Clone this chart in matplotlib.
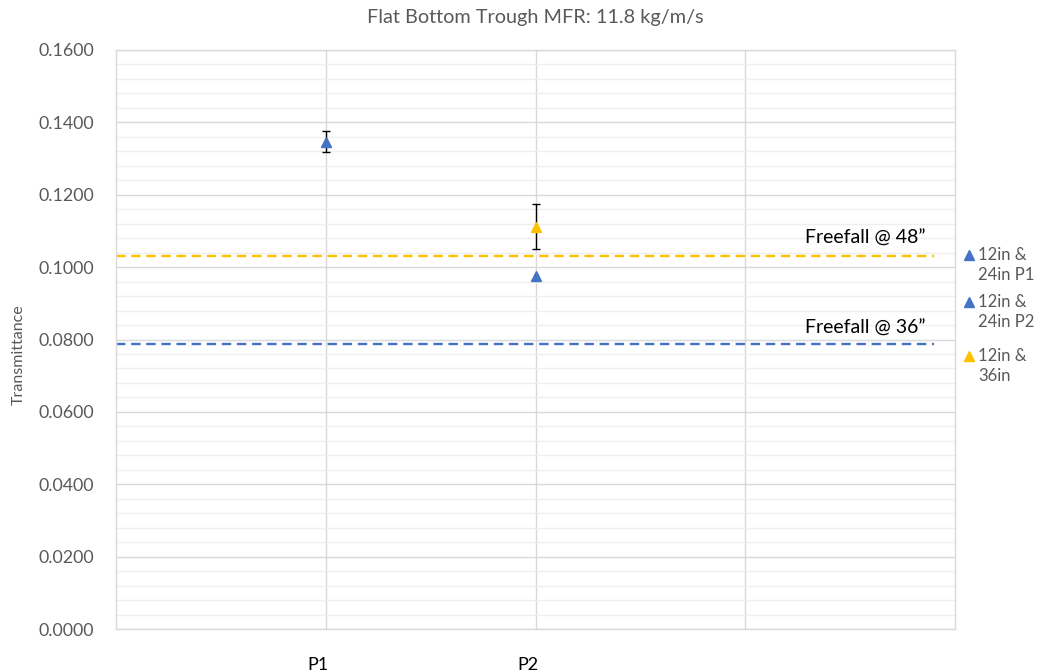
import matplotlib
matplotlib.use("Agg")
import matplotlib.pyplot as plt
import matplotlib.transforms as mtrans
import numpy as np

plt.rcParams['font.family'] = ['Lato', 'DejaVu Sans']

title = "Flat Bottom Trough MFR: 11.8 kg/m/s"
ylabel = "Transmittance"
x_ticks = [1, 2, 3]
x_ticklabels = ["P1", "P2", ""]

series_labels = ["12in &\n24in P1", "12in &\n24in P2", "12in &\n36in"]
series_x = [[1], [2], [2]]
series_y = [[0.1347], [0.0975], [0.1112]]
series_err = [[0.0030], [0.0], [0.0062]]
series_colors = ["#4472C4", "#4472C4", "#FFC000"]

freefall_labels = ["Freefall @ 48\u201d", "Freefall @ 36\u201d"]
freefall_values = [0.1031, 0.0788]
freefall_colors = ["#FFC000", "#4472C4"]

W, H = 1041, 671
fig = plt.figure(figsize=(W/100, H/100), dpi=100)
ax = fig.add_axes([116/W, 42/H, (955-116)/W, (629-50)/H])

ax.set_xlim(0, 4)
ax.set_ylim(0, 0.16)

ax.set_yticks(np.arange(0, 0.1601, 0.02))
ax.set_yticks(np.arange(0, 0.1601, 0.004), minor=True)
ax.set_xticks(x_ticks)
ax.set_xticklabels(x_ticklabels)
ax.grid(True, which='major', axis='y', color='#D9D9D9', lw=1.0)
ax.grid(True, which='minor', axis='y', color='#EFEFEF', lw=1.0)
ax.grid(True, which='major', axis='x', color='#D9D9D9', lw=1.0)
ax.set_axisbelow(True)
ax.yaxis.set_major_formatter(matplotlib.ticker.FormatStrFormatter('%.4f'))
ax.tick_params(axis='both', which='both', length=0)
ax.tick_params(axis='y', labelsize=12.8, labelcolor='#595959', pad=16)
ax.tick_params(axis='x', labelsize=13, labelcolor='#000000', pad=20)
off = mtrans.ScaledTranslation(-8/100, 0, fig.dpi_scale_trans)
for lbl in ax.get_xticklabels():
    lbl.set_transform(lbl.get_transform() + off)
for s in ax.spines.values():
    s.set_color('#D9D9D9')
    s.set_linewidth(1.0)

# freefall lines
text_offsets = [0.0048, 0.0042]
for lab, val, col, to in zip(freefall_labels, freefall_values, freefall_colors, text_offsets):
    ax.plot([0, 3.9], [val, val], ls=(0, (4, 2.4)), color=col, lw=1.7, zorder=2)
    ax.text(3.86, val + to, lab, ha='right', va='center',
            fontsize=14, color='#000000', zorder=3)

for lab, xs, ys, es, col in zip(series_labels, series_x, series_y, series_err, series_colors):
    if max(es) > 0:
        ax.errorbar(xs, ys, yerr=es, fmt='none', ecolor='#000000', elinewidth=1.0,
                    capsize=3, capthick=1.0, zorder=4)
    ax.plot(xs, ys, ls='none', marker='^', markersize=7.5, color=col, zorder=5, label=lab)

ax.set_ylabel(ylabel, fontsize=11.5, color='#595959')
ax.yaxis.set_label_coords((26-116)/839, (629-355)/579)
fig.text(535/W, 1 - 17/H, title, ha='center', va='center', fontsize=14.3, color='#595959')

# manual legend at right
leg_marker_x = 969
leg_text_x = 978
leg_y = [255, 302, 356]
for lab, col, y in zip(series_labels, series_colors, leg_y):
    fig.lines.append(matplotlib.lines.Line2D([leg_marker_x/W], [1 - y/H], transform=fig.transFigure,
                                             marker='^', markersize=7, color=col, ls='none'))
    l1, l2 = lab.split("\n")
    fig.text(leg_text_x/W, 1 - y/H, l1, ha='left', va='center', fontsize=12, color='#595959')
    fig.text(leg_text_x/W, 1 - (y + 20)/H, l2, ha='left', va='center', fontsize=12, color='#595959')

fig.savefig("out.png", dpi=100)
